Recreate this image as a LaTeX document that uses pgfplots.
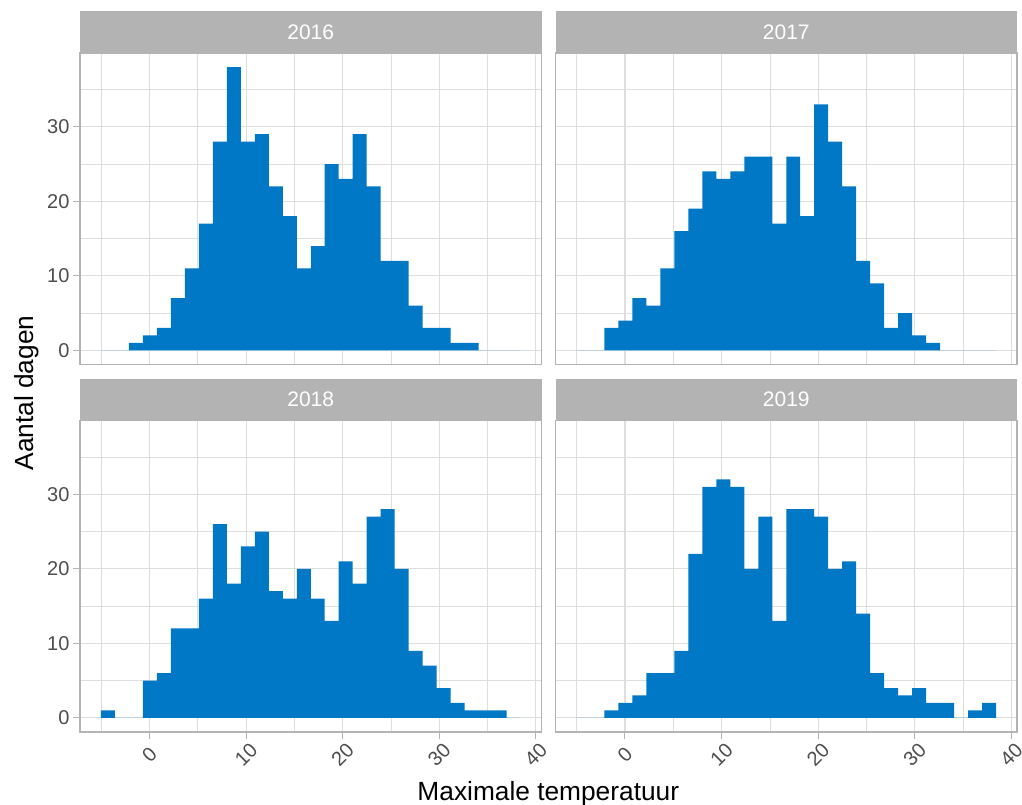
\documentclass[border=0pt]{standalone}
\usepackage{fontspec}
\setmainfont{Liberation Sans}
\usepackage{pgfplots}
\usepackage{pgfplotstable}
\pgfplotsset{compat=1.18}

\definecolor{grey70}{HTML}{B3B3B3}
\definecolor{grey87}{HTML}{DEDEDE}
\definecolor{grey30}{HTML}{4D4D4D}
\definecolor{barblue}{HTML}{0078C6}

% Histogram of daily maximum temperature: 30 bins, left bin edges,
% last row closes the final interval.
\pgfplotstableread{
edge    c2016 c2017 c2018 c2019
-5.024  0  0  1  0
-3.576  0  0  0  0
-2.127  1  3  0  1
-0.679  2  4  5  2
0.769   3  7  6  3
2.217   7  6 12  6
3.666  11 11 12  6
5.114  17 16 16  9
6.562  28 19 26 22
8.011  38 24 18 31
9.459  28 23 23 32
10.907 29 24 25 31
12.355 22 26 17 20
13.804 18 26 16 27
15.252 11 17 20 13
16.700 14 26 16 28
18.148 25 18 13 28
19.597 23 33 21 27
21.045 29 28 18 20
22.493 22 22 27 21
23.942 12 12 28 14
25.390 12  9 20  6
26.838  6  3  9  4
28.286  3  5  7  3
29.735  3  2  4  4
31.183  1  1  2  2
32.631  1  0  1  2
34.080  0  0  1  0
35.528  0  0  1  1
36.976  0  0  0  2
38.424  0  0  0  0
}\histdata

\pgfplotsset{
  facet/.style={
    scale only axis, width=461.5pt, height=311.5pt,
    xmin=-7.196, xmax=40.596, ymin=-1.9, ymax=39.9,
    xtick={0,10,20,30,40}, minor xtick={-5,5,15,25,35},
    ytick={0,10,20,30}, minor ytick={5,15,25,35},
    grid=both,
    major grid style={grey87, line width=1.1pt},
    minor grid style={grey87, line width=0.6pt},
    axis line style={grey70, line width=1.5pt},
    tick align=outside, major tick length=7pt, minor tick length=0pt,
    tick style={grey70, line width=1pt},
    tick pos=left,
    ticklabel style={font=\fontsize{20}{24}\selectfont, text=grey30},
    /pgf/number format/assume math mode=true,
    xticklabel style={anchor=center, yshift=-16pt, rotate=45},
    title style={at={(0.5,1)}, anchor=south, yshift=-6pt, fill=grey70,
      text=white, minimum width=461.5pt, minimum height=41.5pt,
      inner sep=0pt, font=\fontsize{21}{24}\selectfont},
  },
  notx/.style={xticklabels={}, xmajorticks=false},
  noty/.style={yticklabels={}, ymajorticks=false},
}

\begin{document}
\begin{tikzpicture}
\path[use as bounding box] (0,0) rectangle (1022pt,-805pt);

\begin{axis}[facet, notx, at={(80pt,-53pt)}, anchor=north west, title={2016}]
  \addplot[ybar interval, fill=barblue, draw=none] table[x=edge, y=c2016] {\histdata};
\end{axis}

\begin{axis}[facet, notx, noty, at={(555.5pt,-53pt)}, anchor=north west, title={2017}]
  \addplot[ybar interval, fill=barblue, draw=none] table[x=edge, y=c2017] {\histdata};
\end{axis}

\begin{axis}[facet, at={(80pt,-420.5pt)}, anchor=north west, title={2018}]
  \addplot[ybar interval, fill=barblue, draw=none] table[x=edge, y=c2018] {\histdata};
\end{axis}

\begin{axis}[facet, noty, at={(555.5pt,-420.5pt)}, anchor=north west, title={2019}]
  \addplot[ybar interval, fill=barblue, draw=none] table[x=edge, y=c2019] {\histdata};
\end{axis}

\node[anchor=base, font=\fontsize{26.3}{30}\selectfont] at (548.3pt,-800pt) {Maximale temperatuur};
\node[anchor=base, rotate=90, font=\fontsize{26.3}{30}\selectfont] at (33.8pt,-393pt) {Aantal dagen};
\end{tikzpicture}
\end{document}
